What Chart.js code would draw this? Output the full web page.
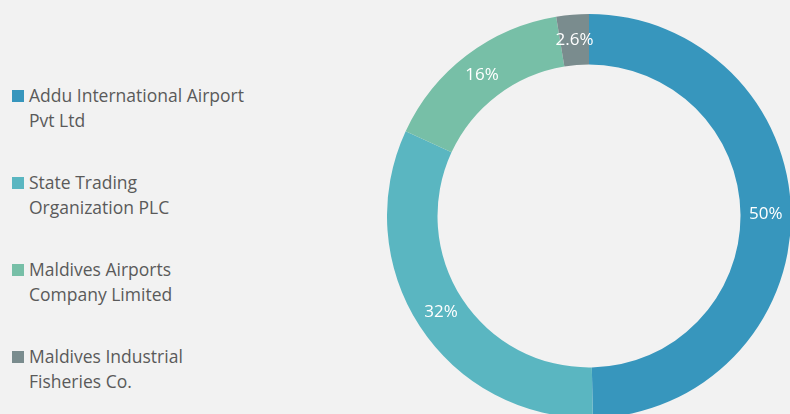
<!DOCTYPE html>
<html>
<head>
<meta charset="utf-8">
<script src="https://cdn.jsdelivr.net/npm/chart.js@4.4.1/dist/chart.umd.min.js"></script>
<style>
    html, body {
        margin: 0;
        padding: 0;
        width: 790px;
        height: 414px;
        overflow: hidden;
        background: #f2f2f2;
        font-family: "Open Sans", sans-serif;
    }
    #legenda {
        position: absolute;
        left: 12px;
        top: 83px;
        color: #5a5a5a;
        font-size: 17.5px;
        line-height: 25px;
    }
    .item {
        position: relative;
        padding-left: 17px;
        height: 50px;
        margin-bottom: 37px;
    }
    .item span.cor {
        position: absolute;
        left: 0;
        top: 7px;
        width: 12px;
        height: 12px;
    }
    #caixa {
        position: absolute;
        left: 387px;
        top: 14px;
        width: 404px;
        height: 404px;
    }
</style>
</head>
<body>
<div id="legenda"></div>
<div id="caixa"><canvas id="graf"></canvas></div>
<script>
const empresas = [
    ['Addu International Airport', 'Pvt Ltd'],
    ['State Trading', 'Organization PLC'],
    ['Maldives Airports', 'Company Limited'],
    ['Maldives Industrial', 'Fisheries Co.']
]
const participacao = [49.7, 32.2, 15.5, 2.6]
const cores = ['#3796bd', '#5ab6c1', '#77bfa7', '#7a8c8e']

// escreve o percentual no meio de cada fatia
const rotulos = {
    id: 'rotulos',
    afterDatasetsDraw(chart) {
        const ctx = chart.ctx
        const meta = chart.getDatasetMeta(0)
        const dados = chart.data.datasets[0].data
        const total = dados.reduce((a, b) => a + b, 0)
        ctx.save()
        ctx.fillStyle = '#ffffff'
        ctx.font = '17px "Open Sans"'
        ctx.textAlign = 'center'
        ctx.textBaseline = 'middle'
        meta.data.forEach((arco, i) => {
            const p = arco.getCenterPoint()
            const txt = Number((dados[i] / total * 100).toPrecision(2)) + '%'
            ctx.fillText(txt, p.x, p.y)
        })
        ctx.restore()
    }
}

const ctx = document.getElementById('graf').getContext('2d')

const grafico = new Chart(ctx, {
    type: 'doughnut',
    data: {
        labels: empresas,
        datasets: [{
            data: participacao,
            backgroundColor: cores,
            borderColor: '#f2f2f2',
            borderWidth: 0
        }]
    },
    options: {
        responsive: true,
        maintainAspectRatio: false,
        animation: false,
        cutout: '75%',
        layout: { padding: 0 },
        plugins: {
            legend: { display: false },
            tooltip: { enabled: true }
        }
    },
    plugins: [rotulos]
})

// legenda em html, montada a partir do proprio grafico
const legenda = document.getElementById('legenda')
grafico.data.labels.forEach((nome, i) => {
    const div = document.createElement('div')
    div.className = 'item'
    const cor = document.createElement('span')
    cor.className = 'cor'
    cor.style.background = cores[i]
    div.appendChild(cor)
    div.insertAdjacentHTML('beforeend', nome.join('<br>'))
    legenda.appendChild(div)
})
</script>
</body>
</html>
